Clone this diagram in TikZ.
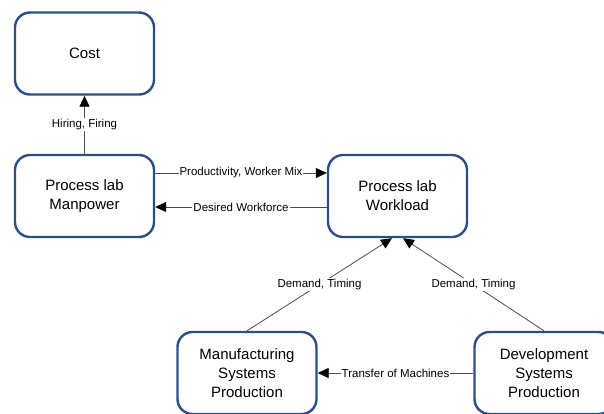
\documentclass[tikz,border=0pt]{standalone}
\usepackage{fontspec}
\setmainfont{Liberation Sans}
\usetikzlibrary{arrows.meta}
\definecolor{boxblue}{RGB}{44,78,135}
\tikzset{
  block/.style={draw=boxblue, line width=2.4pt, rounded corners=15pt,
    minimum width=139pt, minimum height=82pt, align=center,
    font=\fontsize{15}{19}\selectfont, inner sep=2pt},
  conn/.style={draw=black!70, line width=0.8pt,
    -{Triangle[length=11pt,width=10pt,fill=black,color=black]}},
  lab/.style={fill=white, inner sep=1pt, font=\fontsize{11.5}{13}\selectfont}
}
\begin{document}
\begin{tikzpicture}[x=1pt,y=-1pt]
  \useasboundingbox (0,0) rectangle (604,413);
  % boxes
  \node[block] (cost) at (84.5,53.5) {Cost};
  \node[block] (manp) at (84.5,196) {Process lab\\Manpower};
  \node[block] (wl) at (397.5,196) {Process lab\\Workload};
  \node[block] (mfg) at (247,373) {Manufacturing\\Systems\\Production};
  \node[block] (dev) at (544,373) {Development\\Systems\\Production};

  % labelled influences
  \draw[conn] (manp.north) -- node[lab] {Hiring, Firing} (cost.south);
  \draw[conn] ([yshift=23pt]manp.east) -- node[lab] {Productivity, Worker Mix} ([yshift=23pt]wl.west);
  \draw[conn] ([yshift=-11pt]wl.west) -- node[lab] {Desired Workforce} ([yshift=-11pt]manp.east);
  \draw[conn] (mfg.north) -- node[lab] {Demand, Timing} ([xshift=-5.5pt]wl.south);
  \draw[conn] (dev.north) -- node[lab] {Demand, Timing} ([xshift=5.5pt]wl.south);
  \draw[conn] (dev.west) -- node[lab] {Transfer of Machines} (mfg.east);
\end{tikzpicture}
\end{document}
